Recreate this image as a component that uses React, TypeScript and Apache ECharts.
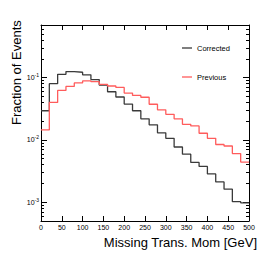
import React, { useEffect, useRef } from "react";
import * as echarts from "echarts";

const binEdges = [0, 20, 40, 60, 80, 100, 120, 140, 160, 180, 200, 220, 240, 260, 280, 300, 320, 340, 360, 380, 400, 420, 440, 460, 480, 500];
const corrected = [0.0294, 0.08, 0.113, 0.125, 0.122, 0.111, 0.093, 0.076, 0.0594, 0.0489, 0.0377, 0.0294, 0.0218, 0.0175, 0.013, 0.0106, 0.0077, 0.0059, 0.00436, 0.00376, 0.00285, 0.00212, 0.00162, 0.00102, 0.00098];
const previous = [0.0145, 0.04, 0.0624, 0.0724, 0.0822, 0.0885, 0.0862, 0.078, 0.0734, 0.0698, 0.0566, 0.0519, 0.0485, 0.0374, 0.0305, 0.0258, 0.0218, 0.0178, 0.0168, 0.0128, 0.0106, 0.00845, 0.008, 0.00605, 0.00442];
const seriesNames = ["Corrected", "Previous"];
const xTickValues = [0, 50, 100, 150, 200, 250, 300, 350, 400, 450, 500];
const yMajorTicks = [0.001, 0.01, 0.1];
const yMinorTicks = [
  0.0005, 0.0006, 0.0007, 0.0008, 0.0009,
  0.002, 0.003, 0.004, 0.005, 0.006, 0.007, 0.008, 0.009,
  0.02, 0.03, 0.04, 0.05, 0.06, 0.07, 0.08, 0.09,
  0.2, 0.3, 0.4, 0.5, 0.6,
];
const yRange = [0.0005, 0.7];
const xTitle = "Missing Trans. Mom [GeV]";
const yTitle = "Fraction of Events";

const FONT = '"Liberation Sans", Arial, Helvetica, sans-serif';

function stepPoints(vals: number[]) {
  return binEdges.map((x, i) => [x, Math.log10(vals[Math.min(i, vals.length - 1)])]);
}

export default function App() {
  const ref = useRef<HTMLDivElement>(null);
  useEffect(() => {
    if (!ref.current) return;
    const chart = echarts.init(ref.current, null, { renderer: "svg" });
    const yMin = Math.log10(yRange[0]);
    const yMax = Math.log10(yRange[1]);
    const lg = (a: number[]) => a.map((v) => Math.log10(v));
    const yAxisBase = (position: string, ticks: number[], len: number, showLine: boolean, labels: boolean) => ({
      type: "value",
      position,
      min: yMin,
      max: yMax,
      splitLine: { show: false },
      axisLine: { show: showLine, lineStyle: { color: "#000", width: 1 } },
      axisTick: { show: true, inside: true, length: len, customValues: lg(ticks), lineStyle: { color: "#000", width: 1 } },
      axisLabel: labels
        ? {
            show: true,
            customValues: lg(ticks),
            margin: 2,
            formatter: (v: number) => `{b|10}{s|${Math.round(v)}}`,
            rich: {
              b: { fontSize: 7, fontFamily: FONT, color: "#000" },
              s: { fontSize: 5, fontFamily: FONT, color: "#000", padding: [0, 0, 5, 0] },
            },
          }
        : { show: false },
    });
    const option: any = {
      animation: false,
      backgroundColor: "#fff",
      grid: { left: 41, right: 28, top: 25, bottom: 40, containLabel: false },
      xAxis: [
        {
          type: "value",
          position: "bottom",
          min: 0,
          max: 500,
          interval: 50,
          splitLine: { show: false },
          axisLine: { show: true, lineStyle: { color: "#000", width: 1 } },
          axisTick: { show: true, inside: true, length: 5, customValues: xTickValues, lineStyle: { color: "#000" } },
          axisLabel: { show: true, customValues: xTickValues, fontSize: 7, fontFamily: FONT, color: "#000", margin: 3 },
          name: xTitle,
          nameLocation: "end",
          nameGap: 8,
          nameTextStyle: { fontSize: 13, fontFamily: FONT, color: "#000", align: "right", verticalAlign: "top", padding: [15, 0, 0, 0] },
        },
        {
          type: "value",
          position: "top",
          min: 0,
          max: 500,
          interval: 50,
          splitLine: { show: false },
          axisLine: { show: true, lineStyle: { color: "#000", width: 1 } },
          axisTick: { show: true, inside: true, length: 5, customValues: xTickValues, lineStyle: { color: "#000" } },
          axisLabel: { show: false },
        },
      ],
      yAxis: [
        yAxisBase("left", yMajorTicks, 6, true, true),
        yAxisBase("left", yMinorTicks, 3, false, false),
        yAxisBase("right", yMajorTicks, 6, true, false),
        yAxisBase("right", yMinorTicks, 3, false, false),
      ],
      legend: {
        orient: "vertical",
        left: 182,
        top: 44,
        itemWidth: 10,
        itemHeight: 1.3,
        itemGap: 21,
        padding: 0,
        icon: "rect",
        textStyle: { fontSize: 7.5, fontFamily: FONT, color: "#000", lineHeight: 8 },
        data: seriesNames,
      },
      series: [
        {
          name: seriesNames[0],
          type: "line",
          step: "end",
          xAxisIndex: 0,
          yAxisIndex: 0,
          symbol: "none",
          lineStyle: { color: "#3a3a3a", width: 1.3 },
          itemStyle: { color: "#3a3a3a" },
          data: stepPoints(corrected),
        },
        {
          name: seriesNames[1],
          type: "line",
          step: "end",
          xAxisIndex: 0,
          yAxisIndex: 0,
          symbol: "none",
          lineStyle: { color: "#ff5c5c", width: 1.3 },
          itemStyle: { color: "#ff5c5c" },
          data: stepPoints(previous),
        },
      ],
      graphic: [
        {
          type: "text",
          x: 16,
          y: 125,
          rotation: Math.PI / 2,
          style: { text: yTitle, font: `13px ${FONT}`, fill: "#000", align: "left", verticalAlign: "middle" },
        },
      ],
    };
    chart.setOption(option);
    return () => chart.dispose();
  }, []);
  return <div ref={ref} style={{ position: "fixed", left: 0, top: 0, width: 277, height: 261 }} />;
}
